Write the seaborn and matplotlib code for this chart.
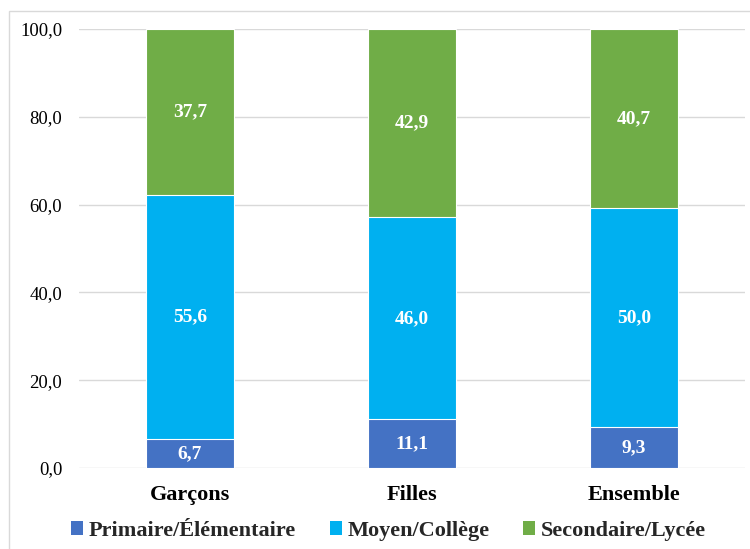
import matplotlib
matplotlib.use("Agg")
import matplotlib.pyplot as plt
from matplotlib.patches import Rectangle, Patch
import numpy as np
import pandas as pd
import seaborn as sns

categories = ["Garçons", "Filles", "Ensemble"]
levels = ["Primaire/Élémentaire", "Moyen/Collège", "Secondaire/Lycée"]
primaire = [6.7, 11.1, 9.3]
moyen = [55.6, 46.0, 50.0]
secondaire = [37.7, 42.9, 40.7]
colors = ["#4472C4", "#00B0F0", "#70AD47"]
yticks = [0, 20, 40, 60, 80, 100]

sns.set_theme(style="white")
plt.rcParams["font.family"] = ["Liberation Serif", "DejaVu Serif"]

series = [primaire, moyen, secondaire]
cum = np.cumsum(np.array(series), axis=0)

fig = plt.figure(figsize=(7.5, 5.49), dpi=100)
ax = fig.add_axes([79 / 750, 81 / 549, 666 / 750, 439 / 549])

# Stacked bars: draw cumulative totals from the top segment down
for i in range(len(levels) - 1, -1, -1):
    df = pd.DataFrame({"cat": categories, "val": cum[i]})
    sns.barplot(data=df, x="cat", y="val", color=colors[i], saturation=1,
                width=0.4, edgecolor="white", linewidth=0.8, ax=ax, zorder=3)

# Segment value labels
for i, vals in enumerate(series):
    for j, v in enumerate(vals):
        mid = cum[i][j] - v / 2
        ax.text(j, mid, f"{v:.1f}".replace(".", ","), ha="center", va="center",
                color="white", fontsize=14, fontweight="bold", zorder=5)

ax.set_xlim(-0.5, 2.5)
ax.set_ylim(0, 100)
ax.set_yticks(yticks)
ax.set_yticklabels([f"{t:.1f}".replace(".", ",") for t in yticks], fontsize=13.5,
                   color="black")
ax.set_xticks(range(len(categories)))
ax.set_xticklabels(categories, fontsize=16, fontweight="bold", color="black")
ax.tick_params(axis="y", length=0, pad=12)
ax.tick_params(axis="x", length=0, pad=12)
ax.set_xlabel("")
ax.set_ylabel("")
ax.yaxis.grid(True, color="#d9d9d9", linewidth=1, zorder=0)
ax.set_axisbelow(True)
for s in ax.spines.values():
    s.set_visible(False)

handles = [Patch(facecolor=c, edgecolor="none") for c in colors]
fig.legend(handles, levels, loc="center", bbox_to_anchor=(0.518, 18 / 549), ncol=3,
           frameon=False, prop={"weight": "bold", "size": 16},
           handlelength=0.55, handleheight=0.55, handletextpad=0.25, columnspacing=1.5)

# Chart frame
fig.patches.append(Rectangle((9 / 750, -0.1), 1.2, 1.1 - 11 / 549,
                             transform=fig.transFigure, fill=False,
                             edgecolor="#d9d9d9", linewidth=1))

fig.savefig("out.png", dpi=100)
